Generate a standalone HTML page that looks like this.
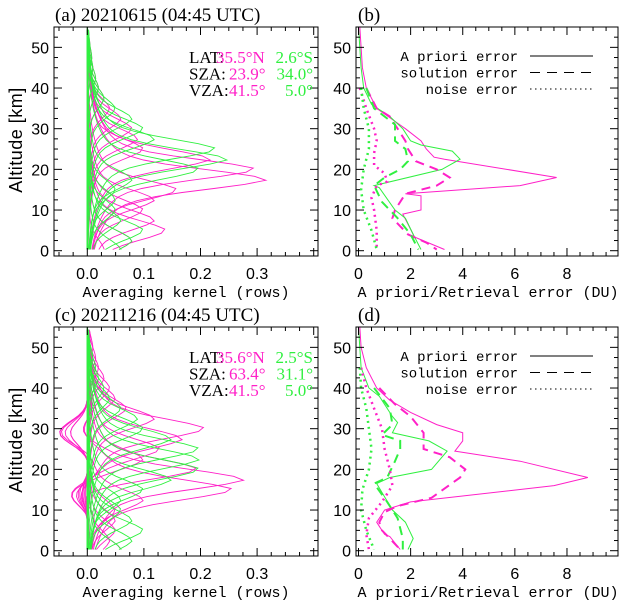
<!DOCTYPE html>
<html><head><meta charset="utf-8"><style>
html,body{margin:0;padding:0;background:#fff;}
svg{display:block;}
text{font-family:"Liberation Serif",serif;fill:#000;}
.mono{font-family:"Liberation Mono",monospace;}
.sans{font-family:"Liberation Sans",sans-serif;}
</style></head><body>
<svg id="fig" width="627" height="604" viewBox="0 0 627 604" xmlns="http://www.w3.org/2000/svg"></svg>
<script>
// ---------- data ----------
const akLevels = [0.3,2.5,5,7.5,10,12.5,15,17.5,20,22.5,25,27.5,30,32.5,35,37.5,40,42.5,45,47.5,50,52.5,55];
const akA_mag = [0.03,0.08,0.14,0.12,0.10,0.12,0.17,0.32,0.30,0.22,0.10,0.09,0.08,0.06,0.04,0.03,0.02,0.015,0.01,0.008,0.005,0.003,0.002];
const akA_grn = [0.06,0.08,0.10,0.06,0.05,0.05,0.05,0.08,0.20,0.25,0.23,0.12,0.10,0.08,0.05,0.03,0.02,0.015,0.01,0.008,0.005,0.003,0.002];
const akA_magNeg = [0,0,0,0,0,0,-0.01,0,0,0,0,0,0,0,0,0,0,0,0,0,0,0,0];
const akC_mag = [0.06,0.04,0.05,0.05,0.05,0.10,0.26,0.28,0.20,0.10,0.13,0.17,0.21,0.12,0.07,0.05,0.04,0.03,0.02,0.015,0.01,0.005,0.003];
const akC_grn = [0.06,0.08,0.10,0.08,0.06,0.06,0.10,0.15,0.20,0.20,0.20,0.15,0.10,0.09,0.06,0.04,0.03,0.02,0.015,0.01,0.005,0.003,0.002];
const akC_magNeg = [-0.03,-0.03,-0.04,-0.05,-0.05,-0.05,-0.02,-0.03,-0.04,-0.04,-0.04,-0.03,-0.02,-0.02,-0.015,-0.01,-0.008,-0.005,-0.003,0,0,0,0];
const bMagApr = [[55,0.05],[45,0.15],[40,0.3],[35,0.7],[30,1.8],[27,2.4],[25,2.6],[23,2.9],[22.5,3.3],[18,7.6],[16,6.2],[14,1.8],[13.5,2.4],[10,2.4],[9,1.7],[4,2.1],[3.5,2.1],[0.3,3.3]];
const bGrnApr = [[55,0.0],[45,0.1],[40,0.2],[36,0.5],[33,1.2],[30,1.7],[27,2.0],[26,2.4],[24.5,3.6],[22.5,3.9],[20,3.2],[16,0.6],[15.5,0.8],[10,1.4],[8,1.8],[4,2.1],[0.3,2.4]];
const bMagSol = [[40,0.3],[35,0.7],[33,1.2],[30,1.5],[27,1.8],[25,1.9],[22,2.2],[20,3.0],[18,3.5],[16,3.0],[14,1.8],[10,1.4],[8,1.3],[4,1.9],[2,2.6],[0.3,3.0]];
const bGrnSol = [[40,0.3],[35,0.6],[33,1.0],[31,1.4],[29,1.4],[27,1.4],[25,1.8],[22,1.9],[20,1.6],[18,1.0],[16,0.6],[12,0.9],[8,1.5],[4,2.0],[0.3,2.3]];
const bMagNoi = [[40,0.05],[35,0.3],[30,0.6],[27,0.7],[24,0.6],[21,0.6],[19,1.0],[17,1.1],[16,0.7],[13,0.5],[10,0.6],[5,0.7],[0.3,0.7]];
const bGrnNoi = [[40,0.1],[35,0.2],[30,0.4],[25,0.4],[20,0.2],[15,0.1],[10,0.2],[5,0.5],[0.3,0.7]];
const dMagApr = [[55,0.05],[50,0.1],[45,0.3],[40,0.7],[37,1.2],[34,2.0],[31,3.0],[29,4.0],[27,4.0],[24.5,3.7],[22,6.2],[18,8.8],[16,7.5],[12,2.0],[10,1.0],[9,0.9],[7,0.7],[6,0.8],[4,1.0],[3.5,1.2],[0.3,1.6]];
const dGrnApr = [[55,0],[45,0.1],[40,0.4],[38,0.8],[33,1.3],[31.5,1.5],[29,1.3],[27,2.7],[24.5,3.4],[20,2.8],[18,1.2],[16.5,0.7],[10,1.3],[7,1.8],[3,2.1],[0.3,1.9]];
const dMagSol = [[40,0.8],[36,1.4],[33,2.0],[29,2.5],[25,2.5],[23,3.5],[20,4.1],[18,3.9],[13,2.8],[11,1.5],[9.5,1.0],[7,0.8],[5,0.9],[3,1.2],[0.3,1.6]];
const dGrnSol = [[40,0.6],[35,1.2],[31,1.3],[28.5,0.9],[27,1.6],[25,1.6],[22,1.4],[18,1.1],[16.5,0.6],[12,1.1],[8,1.5],[3,1.7],[0.3,1.7]];
const dMagNoi = [[45,0.1],[40,0.3],[35,0.6],[30,0.9],[25,1.0],[20,1.2],[16,1.3],[12,0.9],[8,0.4],[4,0.3],[0.3,0.4]];
const dGrnNoi = [[45,0.05],[40,0.1],[35,0.3],[30,0.4],[25,0.5],[20,0.4],[15,0.15],[10,0.1],[5,0.3],[0.3,0.6]];
const akTicks = ["0.0","0.1","0.2","0.3"];
const duTicks = ["0","2","4","6","8"];
const altTicks = ["0","10","20","30","40","50"];

const MAG="#ff20c8", GRN="#30f040";
const NS="http://www.w3.org/2000/svg";
const svg=document.getElementById('fig');
function el(tag,attrs,parent){const e=document.createElementNS(NS,tag);for(const k in attrs)e.setAttribute(k,attrs[k]);(parent||svg).appendChild(e);return e;}

function panel(oy, kind){
  const g=el('g',{});
  
  
  let L,R,T=oy+27,B=oy+256;
  const ya=a=>oy+250.7-a*4.067;
  let xa;
  if(kind==='ak'){L=54;R=318;xa=v=>87.3+v*566;}
  else{L=356;R=618;xa=v=>358.5+v*26.06;}
  return {g,L,R,T,B,ya,xa,oy};
}
function drawAxes(p,kind,title,showYTitle){
  const {g,L,R,T,B,ya,xa,oy}=p;
  const box=el('rect',{x:L,y:T,width:R-L,height:B-T,fill:'none',stroke:'#000','stroke-width':1},g);
  
  
  for(let a=0;a<=55;a+=2.5){
    const y=ya(a);const major=(a%10===0);const len=major?8:4;
    el('line',{x1:L,y1:y,x2:L+len,y2:y,stroke:'#000'},g);
    el('line',{x1:R,y1:y,x2:R-len,y2:y,stroke:'#000'},g);
  }
  altTicks.forEach(t=>{const tx=el('text',{x:L-5,y:ya(+t)+6,'text-anchor':'end','font-size':16,class:'sans'},g);tx.textContent=t;
    });
  let minorStep,lo,hi,ticks;
  if(kind==='ak'){minorStep=0.025;lo=-0.05;hi=0.4;ticks=akTicks;}else{minorStep=0.5;lo=0;hi=9.9;ticks=duTicks;}
  for(let v=lo;v<=hi+1e-9;v+=minorStep){
    const x=xa(v);if(x<L||x>R)continue;
    const major=Math.abs(v/(minorStep*4)-Math.round(v/(minorStep*4)))<1e-6;const len=major?8:4;
    el('line',{x1:x,y1:B,x2:x,y2:B-len,stroke:'#000'},g);
    el('line',{x1:x,y1:T,x2:x,y2:T+len,stroke:'#000'},g);
  }
  ticks.forEach(t=>{const tx=el('text',{x:xa(+t),y:oy+279,'text-anchor':'middle','font-size':16,class:'sans'},g);tx.textContent=t;
    });
  const xt=el('text',{x:(kind==='ak'?186:488),y:oy+297,'text-anchor':'middle','font-size':15,class:'mono'},g);
  xt.textContent=kind==='ak'?'Averaging kernel (rows)':'A priori/Retrieval error (DU)';
  
  const tt=el('text',{x:(kind==='ak'?55:358),y:oy+21,'font-size':19},g);tt.textContent=title;
  
  if(showYTitle){const yt=el('text',{x:0,y:0,'text-anchor':'middle','font-size':18,'letter-spacing':'0.5',transform:`translate(22,${oy+140}) rotate(-90)`,class:'sans'},g);
    yt.textContent='Altitude [km]';}
}
function clip(p,id){const cp=el('clipPath',{id},svg);el('rect',{x:p.L,y:p.T,width:p.R-p.L,height:p.B-p.T},cp);}
const zGrid=[];for(let z=0.3;z<=55.01;z+=1)zGrid.push(z);
function akRows(p,peaks,negs,color,negAlt,clipId){
  const gg=el('g',{'clip-path':`url(#${clipId})`},p.g);
  peaks.forEach((pk,i)=>{
    const zi=akLevels[i];
    const pts=zGrid.map(z=>{
      const d=z-zi;
      let v=pk*(0.55*Math.exp(-Math.pow(d/3.5,2))+0.45*Math.exp(-Math.abs(d)/7));
      if(negs[i])v+=negs[i]*Math.exp(-Math.pow((z-negAlt(i))/4,2));
      return p.xa(v).toFixed(1)+','+p.ya(z).toFixed(1);
    });
    const pl=el('polyline',{points:pts.join(' '),fill:'none',stroke:color,'stroke-width':0.9},gg);
    
    
  });
}
function prof(p,data,color,dash,w,nm){
  const pts=data.map(d=>p.xa(d[1]).toFixed(1)+','+p.ya(d[0]).toFixed(1)).join(' ');
  const a={points:pts,fill:'none',stroke:color,'stroke-width':w};
  if(dash)a['stroke-dasharray']=dash;
  const pl=el('polyline',a,p.g);
  
  
}
function info(oy,vals){
  const rows=[['LAT:',vals[0],vals[1]],['SZA:',vals[2],vals[3]],['VZA:',vals[4],vals[5]]];
  rows.forEach((r,i)=>{
    const y=oy+63+i*16.5;
    const a=el('text',{x:189,y,'font-size':17});a.textContent=r[0];
    const b=el('text',{x:i===0?216:229,y,'font-size':17});b.style.fill=MAG;b.textContent=r[1];
    const c=el('text',{x:313,y,'font-size':17,'text-anchor':'end'});c.style.fill=GRN;c.textContent=r[2];
  });
}
function legend(oy){
  const items=[['A priori error',null],['solution error','10,7'],['noise error','1.5,3.5']];
  items.forEach((it,i)=>{
    const y=oy+56+i*16.5;
    const t=el('text',{x:518,y:y+5,'text-anchor':'end','font-size':14,class:'mono'});t.textContent=it[0];
    
    const a={x1:530,y1:y,x2:593,y2:y,stroke:'#000','stroke-width':1};if(it[1])a['stroke-dasharray']=it[1];
    const l=el('line',a);
  });
}

let pa=panel(0,'ak');clip(pa,'ca');
akRows(pa,akA_mag,akA_magNeg,MAG,()=>16,'ca');
akRows(pa,akA_grn,akA_grn.map(()=>0),GRN,()=>0,'ca');
el('line',{x1:pa.xa(0),y1:pa.ya(0.3),x2:pa.xa(0),y2:pa.T,stroke:GRN,'stroke-width':1.2},pa.g);
drawAxes(pa,'ak','(a) 20210615 (04:45 UTC)',true);
info(0,['35.5°N','2.6°S','23.9°','34.0°','41.5°','5.0°']);
let pb=panel(0,'du');
prof(pb,bMagApr,MAG,null,1,'apriori-site1');prof(pb,bGrnApr,GRN,null,1,'apriori-site2');
prof(pb,bMagSol,MAG,'9,6',2,'solution-site1');prof(pb,bGrnSol,GRN,'9,6',2,'solution-site2');
prof(pb,bMagNoi,MAG,'2,4',2.5,'noise-site1');prof(pb,bGrnNoi,GRN,'2,4',2.5,'noise-site2');
drawAxes(pb,'du','(b)',false);legend(0);
let pc=panel(300,'ak');clip(pc,'cc');
akRows(pc,akC_mag,akC_magNeg,MAG,i=>akLevels[i]<20?29:14,'cc');
akRows(pc,akC_grn,akC_grn.map(()=>0),GRN,()=>0,'cc');
el('line',{x1:pc.xa(0),y1:pc.ya(0.3),x2:pc.xa(0),y2:pc.T,stroke:GRN,'stroke-width':1.2},pc.g);
drawAxes(pc,'ak','(c) 20211216 (04:45 UTC)',true);
info(300,['35.6°N','2.5°S','63.4°','31.1°','41.5°','5.0°']);
let pd=panel(300,'du');
prof(pd,dMagApr,MAG,null,1,'apriori-site1');prof(pd,dGrnApr,GRN,null,1,'apriori-site2');
prof(pd,dMagSol,MAG,'9,6',2,'solution-site1');prof(pd,dGrnSol,GRN,'9,6',2,'solution-site2');
prof(pd,dMagNoi,MAG,'2,4',2.5,'noise-site1');prof(pd,dGrnNoi,GRN,'2,4',2.5,'noise-site2');
drawAxes(pd,'du','(d)',false);legend(300);
</script>
</body></html>
